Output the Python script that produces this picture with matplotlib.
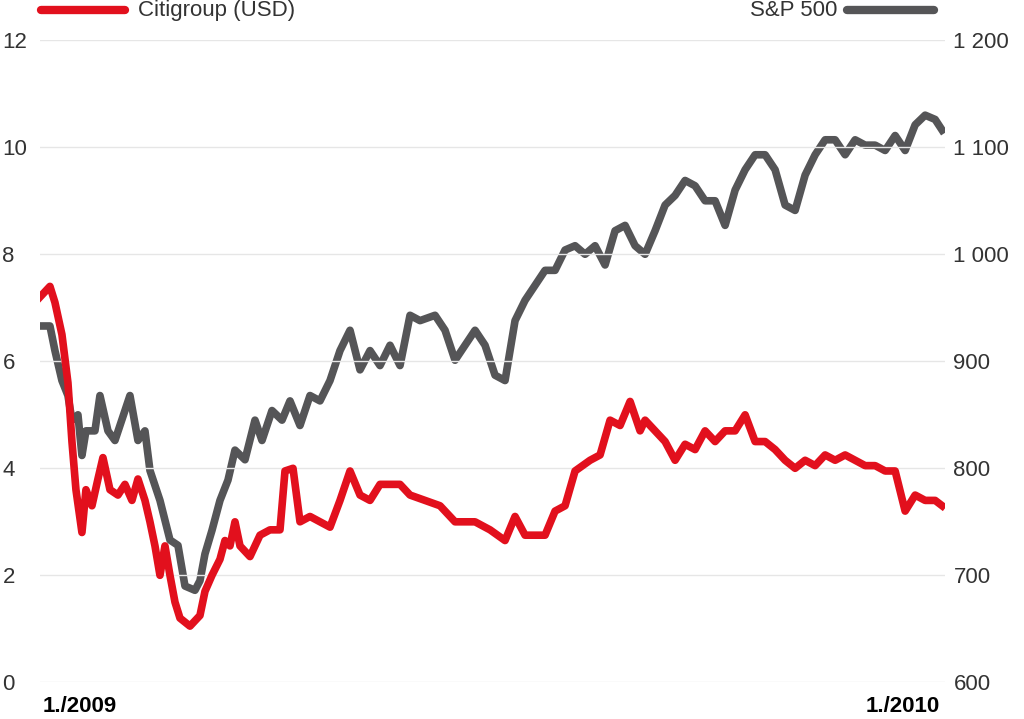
import matplotlib
matplotlib.use("Agg")
import matplotlib.pyplot as plt
import numpy as np

plt.rcParams['font.family'] = ['Liberation Sans', 'DejaVu Sans']

# positions along the year (0 = 1/2009, 900 = 1/2010)
citi_x = [0,10,15,22,28,32,36,42,46,52,58,63,70,78,85,92,98,105,110,115,120,125,130,135,140,150,160,165,172,180,185,190,195,200,210,220,230,240,245,253,260,270,280,290,300,310,320,330,340,360,370,385,400,415,435,450,465,475,485,495,505,515,525,535,550,560,570,580,590,600,605,615,625,635,645,655,665,675,685,695,705,715,725,735,745,755,765,775,785,795,805,815,825,835,845,855,865,875,885,895,902]
citi_y = [7.2,7.4,7.1,6.5,5.6,4.5,3.6,2.8,3.6,3.3,3.8,4.2,3.6,3.5,3.7,3.4,3.8,3.4,3.0,2.55,2.0,2.55,2.0,1.5,1.2,1.05,1.25,1.7,2.0,2.3,2.65,2.55,3.0,2.55,2.35,2.75,2.85,2.85,3.95,4.0,3.0,3.1,3.0,2.9,3.4,3.95,3.5,3.4,3.7,3.7,3.5,3.4,3.3,3.0,3.0,2.85,2.65,3.1,2.75,2.75,2.75,3.2,3.3,3.95,4.15,4.25,4.9,4.8,5.25,4.7,4.9,4.7,4.5,4.15,4.45,4.35,4.7,4.5,4.7,4.7,5.0,4.5,4.5,4.35,4.15,4.0,4.15,4.05,4.25,4.15,4.25,4.15,4.05,4.05,3.95,3.95,3.2,3.5,3.4,3.4,3.3]
spx_x = [0,10,15,22,28,32,38,42,46,55,60,68,75,85,90,98,105,110,120,130,138,145,155,160,165,172,180,188,195,205,215,222,232,242,250,260,270,280,290,300,310,320,330,340,350,360,370,380,395,405,415,425,435,445,455,465,475,485,495,505,515,525,535,545,555,565,575,585,595,605,615,625,635,645,655,665,675,685,695,705,715,725,735,745,755,765,775,785,795,805,815,825,835,845,855,865,875,885,895,902]
spx_y = [933,933,910,882,868,845,850,812,835,835,868,835,826,854,868,826,835,798,770,733,728,690,686,695,720,742,770,789,817,808,845,826,854,845,863,840,868,863,882,910,929,892,910,896,915,896,943,938,943,929,901,915,929,915,887,882,938,957,971,985,985,1004,1008,1000,1008,990,1022,1027,1008,1000,1022,1046,1055,1069,1064,1050,1050,1027,1060,1079,1093,1093,1079,1046,1041,1074,1093,1107,1107,1093,1107,1102,1102,1097,1111,1097,1121,1130,1126,1116]
left_ticks = [0,2,4,6,8,10,12]
right_ticks = [600,700,800,900,1000,1100,1200]
right_labels = ["600","700","800","900","1 000","1 100","1 200"]

RED = "#e2101d"
GRAY = "#555557"

fig = plt.figure(figsize=(10.24,7.19), dpi=100)
ax = fig.add_axes([0.039,0.051,0.884,0.893])
ax2 = ax.twinx()
for a in (ax, ax2):
    for s in a.spines.values():
        s.set_visible(False)
ax.set_ylim(0,12); ax2.set_ylim(600,1200)
ax.set_xlim(0,905)
ax.set_yticks(left_ticks)
ax.set_yticklabels([str(t) for t in left_ticks], fontsize=16, color="#333333", ha="left")
ax.tick_params(axis="y", length=0, pad=27)
ax2.set_yticks(right_ticks)
ax2.set_yticklabels(right_labels, fontsize=16, color="#333333")
ax2.tick_params(axis="y", length=0, pad=6)
ax.grid(axis="y", color="#e6e6e6", lw=1)
ax.set_xticks([])
ax2.plot(spx_x, spx_y, color=GRAY, lw=5.5, solid_joinstyle="round", zorder=2)
ax.set_zorder(ax2.get_zorder()+1); ax.patch.set_visible(False)
ax.plot(citi_x, citi_y, color=RED, lw=5.5, solid_joinstyle="round", zorder=3)
ax2.grid(False)

fig.text(0.042, 0.003, "1./2009", fontsize=16, fontweight="bold", ha="left", va="bottom")
fig.text(0.918, 0.003, "1./2010", fontsize=16, fontweight="bold", ha="right", va="bottom")
# legend
fig.add_artist(plt.Line2D([0.04,0.122],[0.986,0.986], color=RED, lw=6, solid_capstyle="round"))
fig.text(0.135, 0.986, "Citigroup (USD)", fontsize=16, va="center", color="#333333")
fig.add_artist(plt.Line2D([0.827,0.912],[0.986,0.986], color=GRAY, lw=6, solid_capstyle="round"))
fig.text(0.818, 0.986, "S&P 500", fontsize=16, va="center", ha="right", color="#333333")
fig.savefig("out.png", dpi=100)
